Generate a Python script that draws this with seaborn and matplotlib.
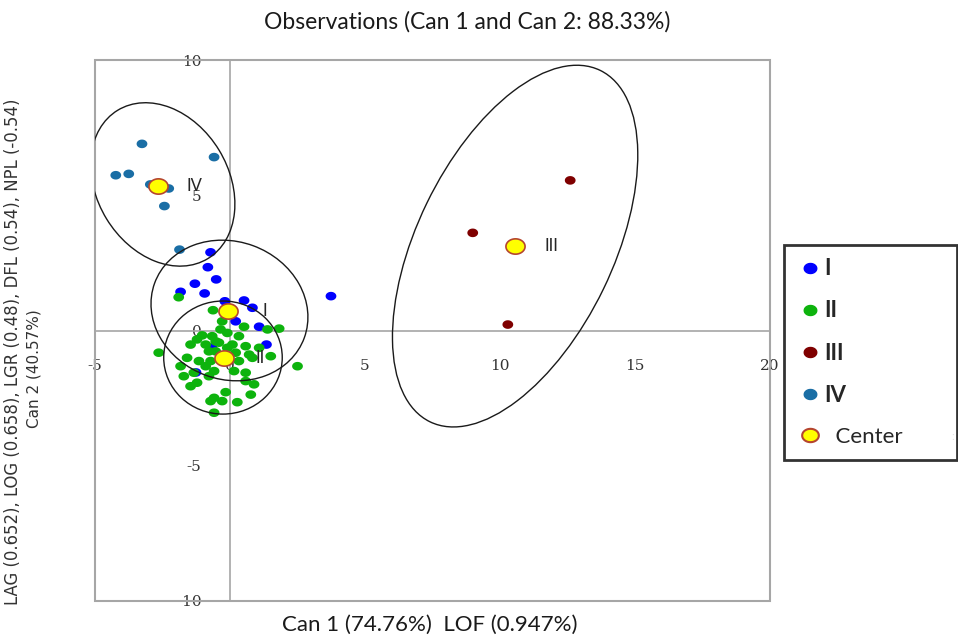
import numpy as np
import pandas as pd
import matplotlib
matplotlib.use("Agg")
import matplotlib.pyplot as plt
from matplotlib.patches import Ellipse, Rectangle
from matplotlib.path import Path
from matplotlib.lines import Line2D
import seaborn as sns

# ---------------- data ----------------
groups = ["I", "II", "III", "IV"]
group_colors = ["#0000FF", "#0DB30D", "#7F0000", "#1A6EA5"]

g1_x = [-0.72, -0.82, -0.51, -1.30, -1.83, -0.94, 3.74, -0.19, 0.52, 0.83, 0.21, 1.08, 1.35, -0.67, -1.26]
g1_y = [2.89, 2.34, 1.89, 1.73, 1.43, 1.37, 1.27, 1.08, 1.11, 0.84, 0.34, 0.14, -0.52, -0.63, -1.55]

g2_x = [-1.90, -0.63, -0.29, 0.52, 1.39, 1.82, -1.03, -0.66, -0.10, 0.33, -1.46, -0.90, -0.41, 0.09,
        0.58, 1.08, -2.64, -0.78, 0.21, 0.71, 1.51, -1.59, -1.15, -0.72, 0.33, -1.83, -0.90, 2.50,
        -1.34, -0.59, 0.58, -1.71, -0.78, 0.15, -1.22, 0.58, 0.89, -1.46, -0.16, 0.77, -0.59, -0.72,
        -0.29, 0.27, -0.59, -0.53, -0.10, -1.22, 0.83, -0.35, -0.53]
g2_y = [1.23, 0.75, 0.34, 0.14, 0.04, 0.07, -0.18, -0.21, -0.09, -0.21, -0.52, -0.52, -0.45, -0.52,
        -0.58, -0.64, -0.82, -0.77, -0.82, -0.89, -0.95, -1.01, -1.13, -1.13, -1.13, -1.32, -1.32, -1.32,
        -1.56, -1.50, -1.56, -1.69, -1.69, -1.50, -1.93, -1.87, -1.99, -2.06, -2.28, -2.37, -2.49, -2.61,
        -2.61, -2.65, -3.04, -0.40, -0.64, -0.33, -1.01, 0.04, -0.77]

g3_x = [12.60, 8.99, 10.29]
g3_y = [5.55, 3.61, 0.22]

g4_x = [-3.26, -0.59, -4.23, -3.75, -2.95, -2.27, -2.43, -1.87]
g4_y = [6.90, 6.41, 5.74, 5.79, 5.40, 5.25, 4.60, 2.99]

center_x = [-0.06, -0.22, 10.56, -2.67]
center_y = [0.71, -1.01, 3.12, 5.36]

ell_x = [-0.02, -0.26, 10.56, -2.49]
ell_y = [0.74, -1.00, 3.12, 5.40]
ell_w = [5.90, 4.39, 7.27, 4.88]
ell_h = [5.10, 4.18, 14.44, 6.42]
ell_angle = [-20, 0, -25.9, 31.4]

xticks = [-5, 0, 5, 10, 15, 20]
yticks = [-10, -5, 0, 5, 10]

title = "Observations (Can 1 and Can 2: 88.33%)"
xlabel = "Can 1 (74.76%)  LOF (0.947%)"
ylabel_1 = "LAG (0.652), LOG (0.658), LGR (0.48), DFL (0.54), NPL (-0.54)"
ylabel_2 = "Can 2 (40.57%)"

df = pd.concat([
    pd.DataFrame({"x": g1_x, "y": g1_y, "group": "I"}),
    pd.DataFrame({"x": g2_x, "y": g2_y, "group": "II"}),
    pd.DataFrame({"x": g3_x, "y": g3_y, "group": "III"}),
    pd.DataFrame({"x": g4_x, "y": g4_y, "group": "IV"}),
], ignore_index=True)
centers = pd.DataFrame({"x": center_x, "y": center_y, "group": groups})

# ---------------- style ----------------
sns.set_theme(style="white")
plt.rcParams["font.family"] = ["Lato", "DejaVu Sans"]
plt.rcParams["axes.unicode_minus"] = False
grey = "#A6A6A6"

t = np.linspace(0, 2 * np.pi, 64)
oval = Path(np.column_stack([np.cos(t), 0.8 * np.sin(t)]), closed=True)

fig = plt.figure(figsize=(9.58, 6.36), dpi=100)
ax = fig.add_axes([95 / 958, 35 / 636, 675 / 958, 541 / 636])

sns.scatterplot(data=df, x="x", y="y", hue="group", hue_order=groups,
                palette=dict(zip(groups, group_colors)), marker=oval, s=60,
                edgecolor="none", linewidth=0, legend=False, ax=ax, zorder=3)

for cx, cy, w, h, a in zip(ell_x, ell_y, ell_w, ell_h, ell_angle):
    ax.add_patch(Ellipse((cx, cy), w, h, angle=a, fill=False, ec="#1A1A1A",
                         lw=1.0, zorder=4))

sns.scatterplot(data=centers, x="x", y="y", marker=oval, s=190, color="#FFFF00",
                edgecolor="#B5452F", linewidth=1.2, legend=False, ax=ax, zorder=5)

for cx, cy, lab in zip(center_x, center_y, groups):
    ax.annotate(lab, (cx, cy), xytext=(26, 0), textcoords="offset points",
                ha="center", va="center", fontsize=12, color="#262626", zorder=6)

ax.set_xlim(-5, 20)
ax.set_ylim(-10, 10)
ax.set_xticks(xticks)
ax.set_yticks(yticks)
ax.set_xlabel("")
ax.set_ylabel("")

ax.spines["left"].set_position(("data", 0))
ax.spines["bottom"].set_position(("data", 0))
for s in ["left", "bottom"]:
    ax.spines[s].set_color(grey)
    ax.spines[s].set_linewidth(1.2)
    ax.spines[s].set_zorder(1)
for s in ["top", "right"]:
    ax.spines[s].set_visible(False)
ax.add_patch(Rectangle((0, 0), 1, 1, transform=ax.transAxes, fill=False,
                       ec=grey, lw=1.5, clip_on=False, zorder=1))

ax.tick_params(axis="both", direction="inout", length=7, width=1.0, color=grey,
               labelcolor="#333333", labelsize=11)
ax.tick_params(axis="x", pad=17)
ax.tick_params(axis="y", pad=17)
for lab in ax.get_xticklabels() + ax.get_yticklabels():
    lab.set_fontfamily("DejaVu Serif")

fig.text(467 / 958, 1 - 22 / 636, title, ha="center", va="center",
         fontsize=16.5, color="#1A1A1A")
fig.text(430 / 958, 1 - 625 / 636, xlabel, ha="center", va="center",
         fontsize=16, color="#1A1A1A")
fig.text(13 / 958, 1 - 352 / 636, ylabel_1, rotation=90, ha="center", va="center",
         fontsize=11.9, color="#333333", family="DejaVu Sans")
fig.text(34 / 958, 1 - 369 / 636, ylabel_2, rotation=90, ha="center", va="center",
         fontsize=11, color="#333333", family="DejaVu Sans")

handles = [Line2D([], [], ls="none", marker=oval, ms=9, mfc=c, mec=c) for c in group_colors]
handles.append(Line2D([], [], ls="none", marker=oval, ms=12, mfc="#FFFF00",
                      mec="#B5452F", mew=1.5))
leg = fig.legend(handles, groups + ["  Center"], loc="upper left",
                 bbox_to_anchor=(784 / 958, 1 - 245 / 636, 173 / 958, 0.0),
                 mode="expand", borderaxespad=0, borderpad=0.6, handlelength=1.1,
                 handletextpad=0.1, labelspacing=0.95, fontsize=16, frameon=True,
                 fancybox=False, edgecolor="black")
leg.get_frame().set_linewidth(2.0)
for txt in leg.get_texts()[:4]:
    txt.set_fontweight("bold")

fig.text(953 / 958, 1 - 437 / 636, ":", ha="center", va="center", fontsize=8, color="#777777")

fig.savefig("out.png", dpi=100)
